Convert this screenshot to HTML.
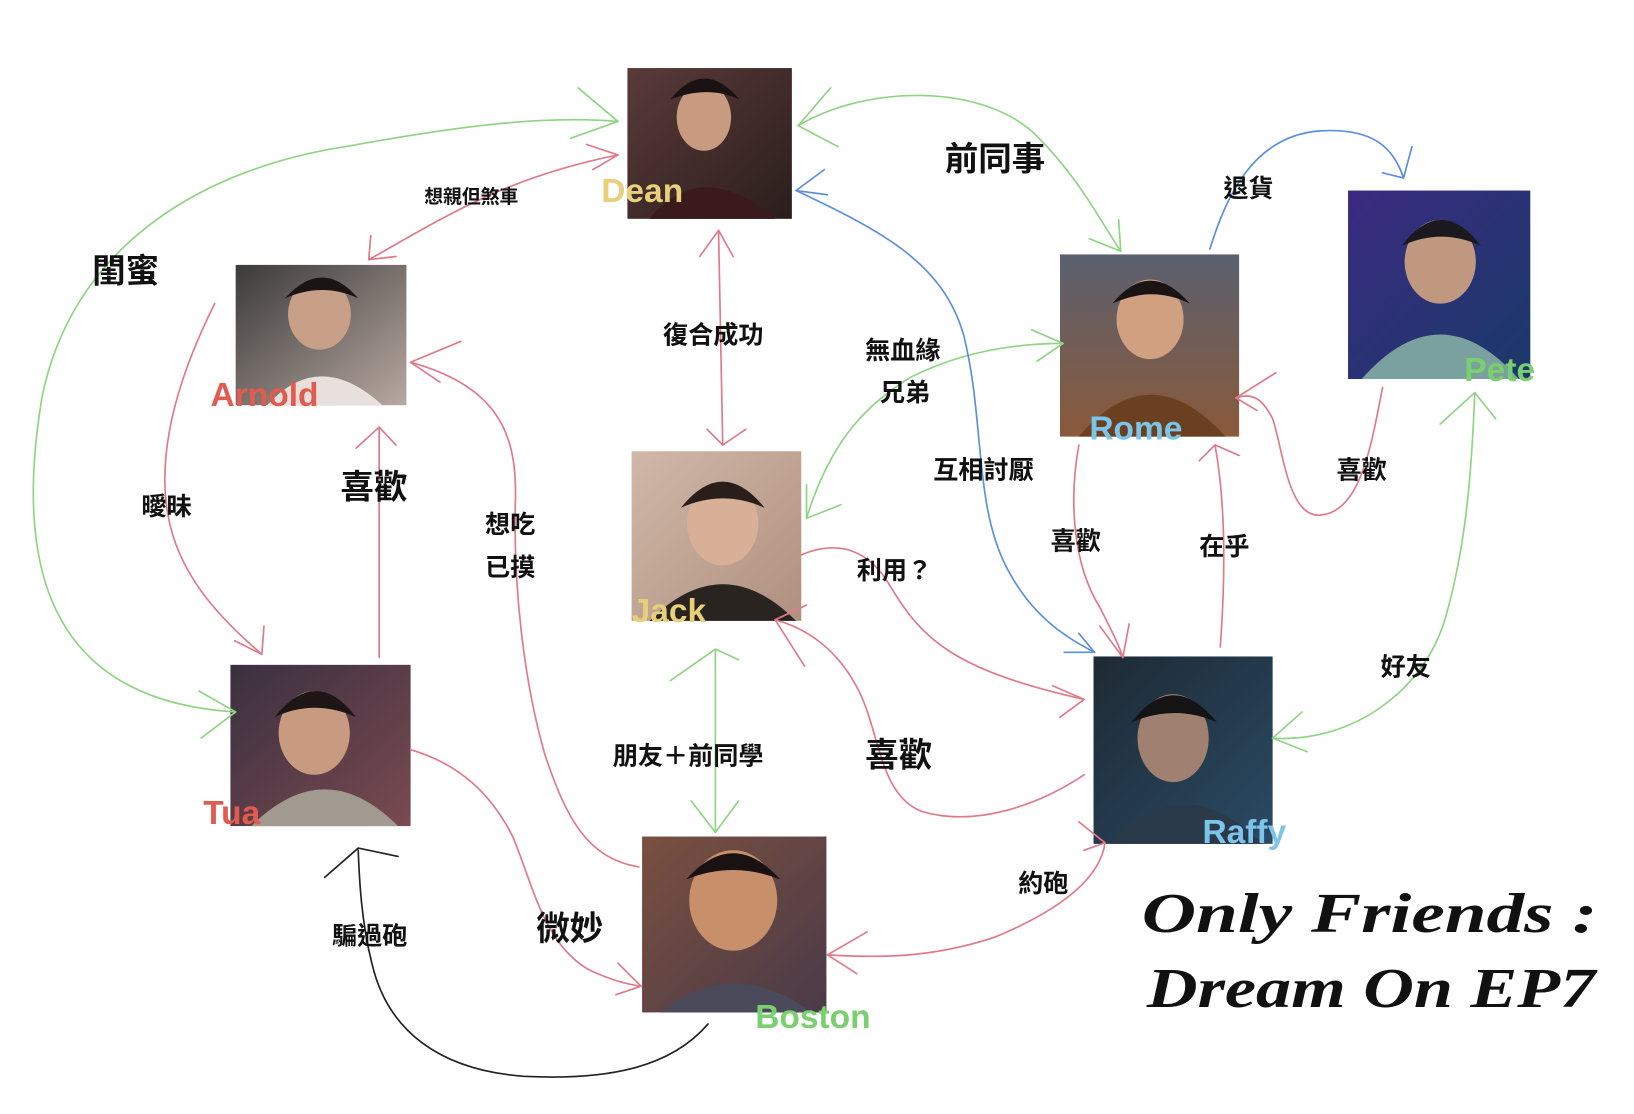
<!DOCTYPE html>
<html><head><meta charset="utf-8"><style>
html,body{margin:0;padding:0;background:#fff;}
svg{display:block}
text{font-family:"Liberation Sans","Noto Sans CJK TC",sans-serif;}
.l{font-size:24px;fill:#111;font-weight:bold;}
.s{font-size:18px;fill:#111;font-weight:bold;}
.b{font-size:32px;fill:#111;font-weight:bold;}
.n{font-size:32px;font-weight:bold;}
</style></head><body>
<svg width="1634" height="1114" viewBox="0 0 1560 1064" preserveAspectRatio="none" xmlns="http://www.w3.org/2000/svg">
<defs>
<linearGradient id="gDean" x1="0" y1="0" x2="1" y2="1"><stop offset="0" stop-color="#5a3a3a"/><stop offset="1" stop-color="#2a1e1c"/></linearGradient>
<linearGradient id="gArn" x1="0" y1="0" x2="1" y2="1"><stop offset="0" stop-color="#3a3a3a"/><stop offset="1" stop-color="#b8a8a0"/></linearGradient>
<linearGradient id="gRome" x1="0" y1="0" x2="0" y2="1"><stop offset="0" stop-color="#5a6070"/><stop offset="1" stop-color="#8a5a3a"/></linearGradient>
<linearGradient id="gPete" x1="0" y1="0" x2="1" y2="1"><stop offset="0" stop-color="#3a2a80"/><stop offset="1" stop-color="#1a3a6a"/></linearGradient>
<linearGradient id="gJack" x1="0" y1="0" x2="1" y2="1"><stop offset="0" stop-color="#d0b8a8"/><stop offset="1" stop-color="#b09080"/></linearGradient>
<linearGradient id="gTua" x1="0" y1="0" x2="1" y2="1"><stop offset="0" stop-color="#3a3040"/><stop offset="1" stop-color="#7a4a50"/></linearGradient>
<linearGradient id="gRaf" x1="0" y1="0" x2="1" y2="1"><stop offset="0" stop-color="#1e2a34"/><stop offset="1" stop-color="#2a4a64"/></linearGradient>
<linearGradient id="gBos" x1="0" y1="0" x2="1" y2="1"><stop offset="0" stop-color="#7a5040"/><stop offset="1" stop-color="#4a3a48"/></linearGradient>
</defs>

<g>
<rect x="599" y="65" width="157" height="144" fill="url(#gDean)"/>
<ellipse cx="672" cy="112" rx="26" ry="32" fill="#c89a80"/><path d="M640 95 q32 -40 66 0 q-30 -14 -66 0z" fill="#1a1212"/><path d="M620 209 q50 -60 120 0z" fill="#3a1a1a"/>
<rect x="225" y="253" width="163" height="134" fill="url(#gArn)"/>
<ellipse cx="305" cy="300" rx="30" ry="34" fill="#c8a088"/><path d="M272 285 q36 -40 70 0 q-34 -16 -70 0z" fill="#1a1414"/><path d="M255 387 q50 -55 110 0z" fill="#e8e0dc"/>
<rect x="1012" y="243" width="171" height="174" fill="url(#gRome)"/>
<ellipse cx="1098" cy="305" rx="32" ry="38" fill="#d0a080"/><path d="M1062 290 q36 -44 74 0 q-36 -18 -74 0z" fill="#1a1414"/><path d="M1030 417 q68 -80 140 0z" fill="#6a4020"/>
<rect x="1287" y="182" width="174" height="180" fill="url(#gPete)"/>
<ellipse cx="1375" cy="250" rx="34" ry="40" fill="#c09880"/><path d="M1338 235 q38 -50 76 0 q-38 -18 -76 0z" fill="#1a1a1e"/><path d="M1300 362 q75 -85 150 0z" fill="#7aa0a0"/>
<rect x="603" y="431" width="162" height="162" fill="url(#gJack)"/>
<ellipse cx="690" cy="500" rx="34" ry="40" fill="#d8b098"/><path d="M650 485 q40 -50 80 0 q-40 -18 -80 0z" fill="#2a1e1a"/><path d="M620 593 q70 -70 140 0z" fill="#2a2420"/>
<rect x="220" y="635" width="172" height="154" fill="url(#gTua)"/>
<ellipse cx="300" cy="700" rx="34" ry="40" fill="#c89a80"/><path d="M262 685 q40 -50 78 0 q-40 -18 -78 0z" fill="#1e1616"/><path d="M240 789 q70 -70 140 0z" fill="#a09a90"/>
<rect x="1044" y="627" width="171" height="179" fill="url(#gRaf)"/>
<ellipse cx="1120" cy="705" rx="34" ry="42" fill="#a08070"/><path d="M1080 690 q40 -52 82 0 q-40 -18 -82 0z" fill="#141414"/><path d="M1060 806 q70 -75 145 0z" fill="#2a3a4a"/>
<rect x="613" y="799" width="176" height="168" fill="url(#gBos)"/>
<ellipse cx="700" cy="860" rx="42" ry="48" fill="#c8906a"/><path d="M655 840 q45 -50 90 0 q-45 -18 -90 0z" fill="#1a1212"/><path d="M630 967 q70 -55 145 0z" fill="#4a4a5a"/>
</g>

<text x="574" y="193" class="n" fill="#e8cf7a">Dean</text>
<text x="201" y="388" class="n" fill="#e25b4e">Arnold</text>
<text x="1040" y="420" class="n" fill="#7cc4ea">Rome</text>
<text x="1398" y="364" class="n" fill="#7acf6e">Pete</text>
<text x="603" y="594" class="n" fill="#e8cf7a">Jack</text>
<text x="194" y="787" class="n" fill="#e25b4e">Tua</text>
<text x="1148" y="805" class="n" fill="#7cc4ea">Raffy</text>
<text x="721" y="982" class="n" fill="#7acf6e">Boston</text>

<g fill="none" stroke-width="1.6" stroke-linecap="round" stroke-linejoin="round">
<g stroke="#8fd483">
<path d="M225 680 C60 670 10 560 40 380 C70 230 200 160 330 140 C440 120 520 110 590 116"/>
<path d="M552 84 L590 116 L545 132"/>
<path d="M190 660 L225 680 L192 705"/>
<path d="M762 120 C830 80 940 80 990 130 C1030 170 1050 210 1070 240"/>
<path d="M793 84 L762 120 L800 140"/>
<path d="M1040 228 L1070 240 L1068 210"/>
<path d="M770 495 C790 430 820 390 870 360 C920 335 970 328 1015 328"/>
<path d="M985 315 L1015 328 L990 345"/>
<path d="M770 463 L770 495 L803 482"/>
<path d="M683 620 L683 795"/>
<path d="M640 650 L683 620 L705 630"/>
<path d="M660 765 L683 795 L705 765"/>
<path d="M1215 705 C1290 710 1360 660 1380 590 C1400 520 1405 450 1408 375"/>
<path d="M1375 405 L1408 375 L1428 400"/>
<path d="M1243 680 L1215 705 L1248 718"/>
</g>
<g stroke="#5b8fe0">
<path d="M760 182 C840 220 900 250 920 320 C940 400 930 480 960 540 C985 590 1020 610 1045 623"/>
<path d="M787 162 L760 182 L790 186"/>
<path d="M1016 623 L1045 623 L1030 605"/>
<path d="M1155 238 C1170 190 1195 130 1260 125 C1310 122 1330 140 1340 170"/>
<path d="M1320 165 L1340 170 L1348 140"/>
</g>
<g stroke="#e07a8a">
<path d="M352 248 C420 210 480 170 590 148"/>
<path d="M560 138 L590 148 L566 162"/>
<path d="M354 225 L352 248 L378 245"/>
<path d="M205 290 C170 360 150 430 160 490 C170 550 210 590 250 625"/>
<path d="M224 612 L250 625 L252 598"/>
<path d="M362 628 L362 408"/>
<path d="M340 428 L362 408 L378 425"/>
<path d="M610 828 C560 820 540 780 520 720 C500 650 490 560 492 480 C494 420 480 370 392 346"/>
<path d="M440 326 L392 346 L420 365"/>
<path d="M392 716 C440 730 470 760 490 800 C510 850 520 900 560 925 C580 935 598 940 612 942"/>
<path d="M590 920 L612 942 L588 950"/>
<path d="M686 220 L690 425"/>
<path d="M668 245 L686 220 L700 245"/>
<path d="M675 410 L690 425 L712 410"/>
<path d="M765 530 C800 515 830 525 850 560 C880 610 910 640 1035 668"/>
<path d="M1005 655 L1035 668 L1012 685"/>
<path d="M1035 740 C990 770 930 790 880 775 C840 760 840 700 820 660 C800 620 770 600 740 592"/>
<path d="M770 578 L740 592 L768 636"/>
<path d="M1030 425 C1020 480 1025 540 1050 580 C1060 600 1068 615 1072 628"/>
<path d="M1050 598 L1072 628 L1078 596"/>
<path d="M1165 618 C1170 550 1170 480 1160 425"/>
<path d="M1145 440 L1160 425 L1183 435"/>
<path d="M1320 370 C1310 420 1300 490 1260 492 C1230 494 1225 430 1215 400 C1205 380 1195 375 1180 380"/>
<path d="M1218 356 L1180 380 L1200 392"/>
<path d="M1055 805 C1050 840 1010 870 950 895 C890 915 840 915 790 912"/>
<path d="M828 890 L790 912 L818 930"/>
<path d="M1030 785 L1055 805 L1035 812"/>
</g>
<g stroke="#222">
<path d="M676 978 C640 1020 580 1032 500 1028 C420 1022 370 985 355 920 C345 880 343 840 342 812"/>
<path d="M310 838 L342 810 L380 818"/>
</g>
</g>

<text x="405" y="194" class="s">想親但煞車</text>
<text x="88" y="270" class="b">閨蜜</text>
<text x="902" y="163" class="b">前同事</text>
<text x="1168" y="188" class="l">退貨</text>
<text x="633" y="328" class="l">復合成功</text>
<text x="826" y="343" class="l">無血緣</text>
<text x="840" y="383" class="l">兄弟</text>
<text x="891" y="457" class="l">互相討厭</text>
<text x="1276" y="457" class="l">喜歡</text>
<text x="135" y="492" class="l">曖昧</text>
<text x="325" y="476" class="b">喜歡</text>
<text x="463" y="509" class="l">想吃</text>
<text x="463" y="550" class="l">已摸</text>
<text x="1003" y="525" class="l">喜歡</text>
<text x="1145" y="530" class="l">在乎</text>
<text x="818" y="553" class="l">利用？</text>
<text x="1318" y="645" class="l">好友</text>
<text x="585" y="730" class="l">朋友＋前同學</text>
<text x="826" y="732" class="b">喜歡</text>
<text x="972" y="852" class="l">約砲</text>
<text x="317" y="902" class="l">騙過砲</text>
<text x="512" y="898" class="b">微妙</text>

<text x="1090" y="890" textLength="435" lengthAdjust="spacingAndGlyphs" style="font-family:'Liberation Serif',serif;font-size:54px;font-style:italic;font-weight:bold;fill:#111">Only Friends :</text>
<text x="1095" y="962" textLength="428" lengthAdjust="spacingAndGlyphs" style="font-family:'Liberation Serif',serif;font-size:54px;font-style:italic;font-weight:bold;fill:#111">Dream On EP7</text>
</svg>
</body></html>
